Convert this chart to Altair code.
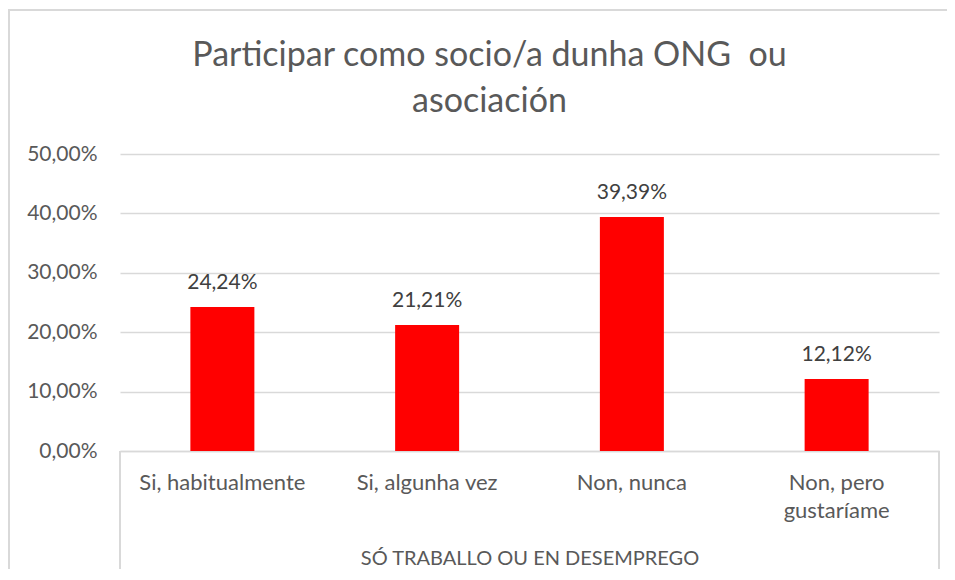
import altair as alt
import pandas as pd

categories = ["Si, habitualmente", "Si, algunha vez", "Non, nunca", "Non, pero gustaríame"]
values = [24.24, 21.21, 39.39, 12.12]
title_lines = ["Participar como socio/a dunha ONG\u00a0 ou", "asociación"]
group_label = "SÓ TRABALLO OU EN DESEMPREGO"
y_ticks = [0, 10, 20, 30, 40, 50]

df = pd.DataFrame({"cat": categories, "val": values})

FONT = "Lato"
W, H = 819, 297
GRAY = "#595959"
LINE = "#d9d9d9"

base = alt.Chart(df)

x_enc = alt.X(
    "cat:N",
    sort=categories,
    scale=alt.Scale(paddingInner=0, paddingOuter=0),
    axis=alt.Axis(
        title=group_label,
        titleFont=FONT,
        titleFontSize=20,
        titleFontWeight="normal",
        titleColor=GRAY,
        titleX=W / 2,
        titleY=113,
        titleAlign="center",
        titleBaseline="alphabetic",
        labelFont=FONT,
        labelFontSize=22,
        labelColor=GRAY,
        labelAngle=0,
        labelBaseline="alphabetic",
        labelPadding=38,
        labelLineHeight=28,
        labelExpr="datum.label == 'Non, pero gustaríame' ? ['Non, pero', 'gustaríame'] : datum.label",
        ticks=False,
        tickSize=0,
        domainColor=LINE,
        domainWidth=1.5,
        grid=False,
    ),
)

y_enc = alt.Y(
    "val:Q",
    scale=alt.Scale(domain=[0, 50], nice=False),
    axis=alt.Axis(
        title=None,
        values=y_ticks,
        labelFont=FONT,
        labelFontSize=21,
        labelColor=GRAY,
        labelPadding=23,
        labelExpr="replace(format(datum.value, '.2f'), '.', ',') + '%'",
        ticks=False,
        tickSize=0,
        domain=False,
        grid=True,
        gridColor=LINE,
        gridWidth=1.5,
    ),
)

bars = base.mark_bar(color="#FF0000", size=64).encode(x=x_enc, y=y_enc)

labels = base.transform_calculate(
    lab="replace(format(datum.val, '.2f'), '.', ',') + '%'"
).mark_text(
    font=FONT, fontSize=21, color="#404040", baseline="alphabetic", dy=-18
).encode(x=alt.X("cat:N", sort=categories), y="val:Q", text="lab:N")

vlines = base.mark_rule(color=LINE, strokeWidth=1.5).encode(
    x=alt.value(0), y=alt.value(H), y2=alt.value(H + 118)
)
vlines2 = base.mark_rule(color=LINE, strokeWidth=1.5).encode(
    x=alt.value(W), y=alt.value(H), y2=alt.value(H + 118)
)
border_top = base.mark_rule(color=LINE, strokeWidth=2).encode(
    x=alt.value(-112), x2=alt.value(W + 8), y=alt.value(-144)
)
border_left = base.mark_rule(color=LINE, strokeWidth=2).encode(
    x=alt.value(-111), y=alt.value(-145), y2=alt.value(H + 118)
)

chart = alt.layer(bars, labels, vlines, vlines2, border_top, border_left).properties(
    width=W,
    height=H,
    autosize=alt.AutoSizeParams(type="none"),
    padding={"left": 112, "top": 146, "right": 8, "bottom": 118},
    title=alt.TitleParams(
        text=title_lines,
        font=FONT,
        fontSize=34,
        fontWeight="normal",
        color=GRAY,
        lineHeight=46,
        anchor="middle",
        dx=-40,
        dy=111,
        offset=0,
    ),
).configure_view(stroke=None)

chart.save("out.html", embed_options={"renderer": "svg", "actions": False})
